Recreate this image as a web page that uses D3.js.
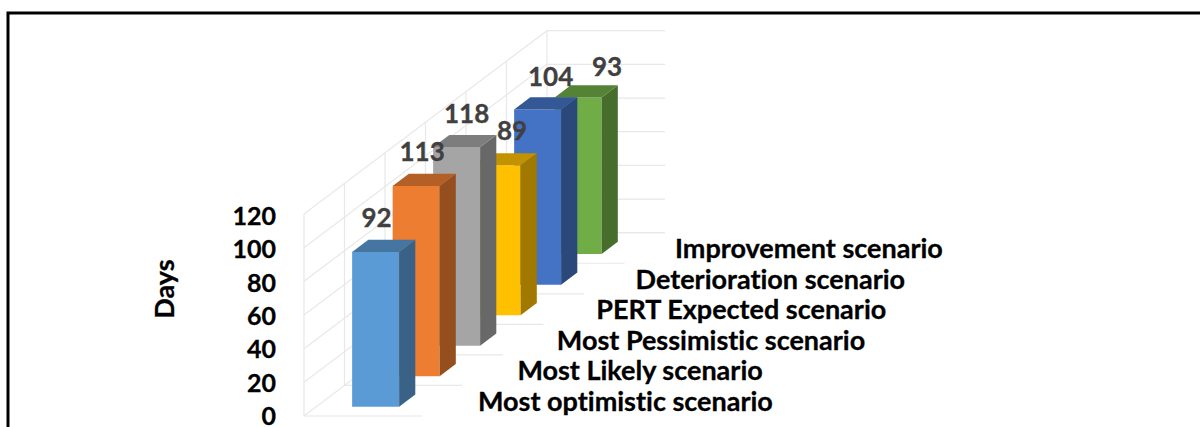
<!DOCTYPE html>
<html>
<head>
<meta charset="utf-8">
<script src="https://cdn.jsdelivr.net/npm/d3@7"></script>
<style>
  html, body { margin: 0; padding: 0; background: #fff; overflow: hidden; }
  svg { display: block; }
  text { font-family: Lato, "Open Sans", sans-serif; font-weight: 700; font-variant-ligatures: none; stroke-width: 0.3px; }
</style>
</head>
<body>
<div id="chart"></div>
<script>
// values
var categories = ["Most optimistic scenario", "Most Likely scenario", "Most Pessimistic scenario",
                  "PERT Expected scenario", "Deterioration scenario", "Improvement scenario"];
var values = [92, 113, 118, 89, 104, 93];
var tickLabels = [0, 20, 40, 60, 80, 100, 120];
var axisTitle = "Days";

var colors = ["#5b9bd5", "#ed7d31", "#a5a5a5", "#ffc000", "#4472c4", "#70ad47"];

var width = 1200, height = 427;

var svg = d3.select("#chart").append("svg")
  .attr("width", width)
  .attr("height", height);

// outer frame, runs off the right and bottom of the page
svg.append("rect")
  .attr("x", 8).attr("y", 13)
  .attr("width", 1300).attr("height", 600)
  .attr("fill", "none")
  .attr("stroke", "#000")
  .attr("stroke-width", 3);

// oblique projection: depth along the categories, across the bar, up the value
var depthX = d3.scaleLinear().domain([0, 6]).range([304, 547]);
var depthY = d3.scaleLinear().domain([0, 6]).range([416, 232.7]);
var across = d3.scaleLinear().domain([0, 1]).range([0, 118]);
var rise = d3.scaleLinear().domain([0, 120]).range([0, 202]);

function project(d, a, v) {
  return [depthX(d) + across(a), depthY(d) - rise(v)];
}

function poly(points) {
  return d3.line()(points) + "Z";
}

// walls and floor
var grid = svg.append("g")
  .attr("fill", "none")
  .attr("stroke", "#e8e8e8")
  .attr("stroke-width", 1.2);

tickLabels.forEach(function (v) {
  grid.append("path").attr("d", d3.line()([project(0, 0, v), project(6, 0, v), project(6, 1, v)]));
});

d3.range(0, 7).forEach(function (i) {
  grid.append("path").attr("d", d3.line()([project(i, 0, 0), project(i, 0, 120)]));
  grid.append("path").attr("d", d3.line()([project(i, 0, 0), project(i, 1, 0)]));
});

// bars, back to front so the near ones cover the far ones
var aL = 0.305, aR = 0.703, dF = 0.3, dB = 0.7;

var rows = values.map(function (v, i) { return { i: i, v: v }; }).reverse();

var bars = svg.selectAll("g.bar")
  .data(rows)
  .enter()
  .append("g")
  .attr("class", "bar");

bars.append("path")
  .attr("fill", function (d) { return colors[d.i]; })
  .attr("d", function (d) {
    return poly([project(d.i + dF, aL, 0), project(d.i + dF, aR, 0),
                 project(d.i + dF, aR, d.v), project(d.i + dF, aL, d.v)]);
  });

bars.append("path")
  .attr("fill", function (d) { var c = d3.rgb(colors[d.i]); return d3.rgb(c.r * 0.63, c.g * 0.63, c.b * 0.63); })
  .attr("d", function (d) {
    return poly([project(d.i + dF, aR, 0), project(d.i + dB, aR, 0),
                 project(d.i + dB, aR, d.v), project(d.i + dF, aR, d.v)]);
  });

bars.append("path")
  .attr("fill", function (d) { var c = d3.rgb(colors[d.i]); return d3.rgb(c.r * 0.76, c.g * 0.76, c.b * 0.76); })
  .attr("d", function (d) {
    return poly([project(d.i + dF, aL, d.v), project(d.i + dF, aR, d.v),
                 project(d.i + dB, aR, d.v), project(d.i + dB, aL, d.v)]);
  });

// value labels, nudged off the bars the way the original sits
var nudgeX = [1, 6, 10, 15, 13, 29];
var nudgeY = [-25, -25, -24, -25, -24, -22];

svg.selectAll("text.value")
  .data(values)
  .enter()
  .append("text")
  .attr("class", "value")
  .attr("x", function (d, i) { return project(i + dF, (aL + aR) / 2, d)[0] + nudgeX[i]; })
  .attr("y", function (d, i) { return project(i + dF, aL, d)[1] + nudgeY[i]; })
  .attr("text-anchor", "middle")
  .attr("font-size", 26)
  .attr("fill", "#404040")
  .attr("stroke", "#404040")
  .text(function (d) { return d; });

// value axis
var yAxisScale = d3.scaleLinear().domain([0, 120]).range([416.5, 216.5]);

var yAxis = svg.append("g")
  .attr("transform", "translate(276,0)")
  .call(d3.axisLeft(yAxisScale).tickValues(tickLabels).tickSize(0).tickPadding(0));

yAxis.select(".domain").remove();
yAxis.selectAll("text")
  .attr("font-size", 25)
  .attr("fill", "#000")
  .attr("stroke", "#000")
  .style("font-family", "Lato, 'Open Sans', sans-serif")
  .style("font-weight", 700);

svg.append("text")
  .attr("transform", "translate(174,289) rotate(-90)")
  .attr("text-anchor", "middle")
  .attr("font-size", 27)
  .attr("fill", "#000")
  .attr("stroke", "#000")
  .text(axisTitle);

// category labels step back along the floor, a bit tighter than the bars do
var catX = d3.scaleLinear().domain([0, 5]).range([478, 675]);
var catY = d3.scaleLinear().domain([0, 5]).range([410.5, 258]);

svg.selectAll("text.cat")
  .data(categories)
  .enter()
  .append("text")
  .attr("class", "cat")
  .attr("x", function (d, i) { return catX(i); })
  .attr("y", function (d, i) { return catY(i); })
  .attr("font-size", 27)
  .attr("fill", "#000")
  .attr("stroke", "#000")
  .text(function (d) { return d; });
</script>
</body>
</html>
